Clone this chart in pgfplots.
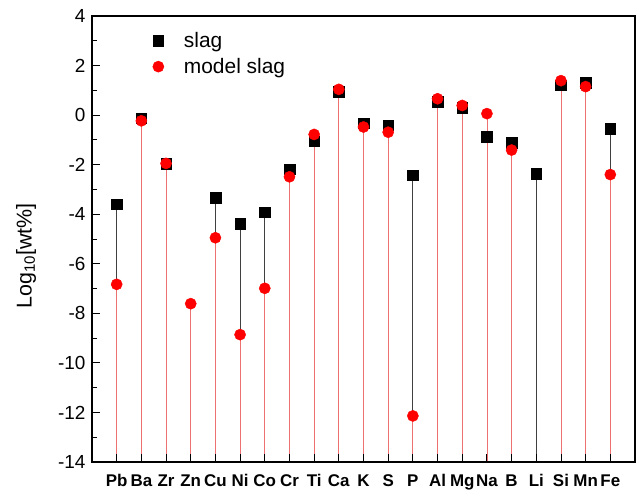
\documentclass[border=0pt]{standalone}
\usepackage{fontspec}
\setmainfont{Liberation Sans}
\usepackage{pgfplots}
\usepackage{pgfplotstable}
\pgfplotsset{compat=1.18}
\definecolor{stemred}{HTML}{EE7070}
\definecolor{stemblack}{HTML}{404040}
\pgfplotstableread{
x slag model
0 -3.59 -6.83
1 -0.13 -0.23
2 -1.95 -1.95
3 nan -7.61
4 -3.33 -4.95
5 -4.39 -8.86
6 -3.92 -6.99
7 -2.19 -2.49
8 -1.05 -0.78
9 0.94 1.04
10 -0.33 -0.48
11 -0.40 -0.69
12 -2.43 -12.14
13 0.54 0.66
14 0.30 0.39
15 -0.88 0.06
16 -1.11 -1.41
17 -2.36 nan
18 1.21 1.39
19 1.32 1.15
20 -0.55 -2.40
}\datatable
\begin{document}
\begin{tikzpicture}
\begin{axis}[
  scale only axis,
  width=543bp, height=446bp,
  axis on top,
  xmin=-1, xmax=21,
  ymin=-14, ymax=4,
  xtick={0,...,20},
  xticklabels={Pb,Ba,Zr,Zn,Cu,Ni,Co,Cr,Ti,Ca,K,S,P,Al,Mg,Na,B,Li,Si,Mn,Fe},
  ytick={-14,-12,...,4},
  minor ytick={-13,-11,...,3},
  xtick pos=bottom, ytick pos=left,
  tick align=inside,
  major tick length=8bp,
  minor tick length=5bp,
  every tick/.style={black, line width=0.9pt},
  axis line style={line width=1.6pt, black},
  /pgf/number format/assume math mode=true,
  yticklabel style={font=\fontsize{19}{21}\selectfont, xshift=-3bp},
  xticklabel style={font=\fontsize{17}{19}\selectfont\bfseries, yshift=-9bp},
  ylabel={Log\textsubscript{10}[wt\%]},
  ylabel style={font=\fontsize{21.5}{24}\selectfont, at={(axis description cs:-0.1215,0.462)}, anchor=center},
  legend style={draw=none, fill=none, at={(axis description cs:0.106,0.972)}, anchor=north west,
    font=\fontsize{21}{24}\selectfont, row sep=5bp, legend cell align=left},
]
\addplot[forget plot, draw=none, mark=none,
  error bars/.cd, y dir=minus, y explicit,
  error mark=none, error bar style={stemblack, line width=0.8pt}]
  table[x=x, y=slag, y error minus expr=\thisrow{slag}+14] {\datatable};
\addplot[forget plot, draw=none, mark=none,
  error bars/.cd, y dir=minus, y explicit,
  error mark=none, error bar style={stemred, line width=0.8pt}]
  table[x=x, y=model, y error minus expr=\thisrow{model}+14] {\datatable};
\addplot[only marks, mark=square*, mark size=5.3bp, black, mark options={fill=black}]
  table[x=x, y=slag] {\datatable};
\addlegendentry{\hspace{18bp}slag}
\addplot[only marks, mark=*, mark size=5.6bp, red, mark options={fill=red, draw=red}]
  table[x=x, y=model] {\datatable};
\addlegendentry{\hspace{18bp}model slag}
\end{axis}
\draw[line width=1.6pt, black] (current axis.south west) rectangle (current axis.north east);
\pgfresetboundingbox
\path (current axis.south west) ++(-92bp,-29bp) rectangle ++(641bp,491bp);
\end{tikzpicture}
\end{document}
